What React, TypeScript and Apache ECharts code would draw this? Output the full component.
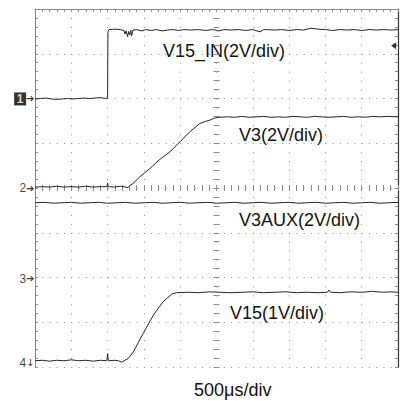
import React, { useEffect, useRef } from 'react';
import * as echarts from 'echarts';

// Screen is 10 horizontal x 8 vertical divisions, centred on (0, 0)
const xDivs = [-5, 5];
const yDivs = [-4, 4];

// Channel traces, in divisions
const ch1V15In: [number, number][] = [
  [-5.0, 1.99], [-4.85, 2.0], [-4.7, 2.01], [-4.55, 1.99], [-4.4, 1.98], [-4.25, 1.99], [-4.1, 2.0],
  [-3.95, 1.99], [-3.8, 2.0], [-3.65, 2.01], [-3.5, 2.0], [-3.35, 2.01], [-3.2, 2.02], [-3.05, 2.0],
  [-3.0, 2.01], [-2.99, 3.5], [-2.96, 3.54], [-2.8, 3.55], [-2.65, 3.54], [-2.55, 3.52], [-2.52, 3.44],
  [-2.49, 3.51], [-2.45, 3.38], [-2.42, 3.5], [-2.39, 3.42], [-2.36, 3.52], [-2.34, 3.4], [-2.3, 3.53],
  [-2.2, 3.54], [-2.05, 3.51], [-1.95, 3.54], [-1.8, 3.52], [-1.65, 3.54], [-1.5, 3.51], [-1.35, 3.53],
  [-1.2, 3.54], [-1.05, 3.52], [-0.9, 3.54], [-0.7, 3.53], [-0.5, 3.54], [-0.3, 3.52], [-0.1, 3.54],
  [0.05, 3.51], [0.2, 3.54], [0.4, 3.53], [0.6, 3.54], [0.8, 3.52], [1.0, 3.54], [1.2, 3.49],
  [1.3, 3.54], [1.6, 3.53], [1.8, 3.54], [2.0, 3.52], [2.2, 3.54], [2.4, 3.53], [2.6, 3.57],
  [2.8, 3.55], [3.0, 3.54], [3.2, 3.52], [3.4, 3.54], [3.6, 3.53], [3.8, 3.54], [4.0, 3.52],
  [4.2, 3.54], [4.4, 3.53], [4.6, 3.54], [4.8, 3.53], [5.0, 3.54],
];

const ch2V3: [number, number][] = [
  [-5.0, 0.02], [-4.8, 0.03], [-4.6, 0.02], [-4.4, 0.04], [-4.2, 0.02], [-4.0, 0.03], [-3.8, 0.02],
  [-3.6, 0.04], [-3.4, 0.02], [-3.2, 0.03], [-3.02, 0.03], [-3.0, 0.11], [-2.98, 0.03], [-2.8, 0.02],
  [-2.65, 0.04], [-2.5, 0.02], [-2.44, 0.01], [-2.38, 0.06], [-2.3, 0.1], [-2.11, 0.25], [-1.83, 0.44],
  [-1.56, 0.64], [-1.28, 0.81], [-1.01, 1.03], [-0.73, 1.26], [-0.46, 1.44], [-0.3, 1.49], [-0.2, 1.51],
  [-0.07, 1.56], [0.07, 1.58], [0.3, 1.59], [0.5, 1.58], [0.7, 1.6], [0.9, 1.58], [1.1, 1.59],
  [1.3, 1.6], [1.5, 1.58], [1.7, 1.59], [1.9, 1.58], [2.1, 1.6], [2.3, 1.59], [2.5, 1.58], [2.7, 1.6],
  [2.9, 1.59], [3.1, 1.58], [3.3, 1.59], [3.5, 1.6], [3.7, 1.58], [3.9, 1.59], [4.1, 1.58], [4.3, 1.6],
  [4.5, 1.59], [4.7, 1.6], [5.0, 1.59],
];

const ch3V3Aux: [number, number][] = [
  [-5.0, -0.33], [-4.75, -0.32], [-4.5, -0.34], [-4.25, -0.33], [-4.0, -0.32], [-3.75, -0.34],
  [-3.5, -0.33], [-3.25, -0.32], [-3.0, -0.34], [-2.75, -0.33], [-2.5, -0.32], [-2.25, -0.34],
  [-2.0, -0.33], [-1.75, -0.32], [-1.5, -0.34], [-1.25, -0.33], [-1.0, -0.32], [-0.75, -0.34],
  [-0.5, -0.33], [-0.25, -0.32], [0.0, -0.34], [0.25, -0.33], [0.5, -0.32], [0.75, -0.34],
  [1.0, -0.33], [1.25, -0.32], [1.5, -0.34], [1.75, -0.33], [2.0, -0.32], [2.25, -0.34],
  [2.5, -0.33], [2.75, -0.32], [3.0, -0.34], [3.25, -0.33], [3.5, -0.32], [3.75, -0.34],
  [4.0, -0.33], [4.25, -0.32], [4.5, -0.34], [4.75, -0.33], [5.0, -0.32],
];

const ch4V15: [number, number][] = [
  [-5.0, -3.86], [-4.8, -3.85], [-4.6, -3.87], [-4.4, -3.85], [-4.2, -3.86], [-4.0, -3.84], [-3.8, -3.86],
  [-3.6, -3.85], [-3.4, -3.87], [-3.2, -3.85], [-3.02, -3.86], [-3.0, -3.7], [-2.98, -3.86], [-2.8, -3.85],
  [-2.7, -3.86], [-2.61, -3.89], [-2.43, -3.81], [-2.29, -3.66], [-2.02, -3.25], [-1.74, -2.84],
  [-1.47, -2.54], [-1.23, -2.37], [-1.1, -2.34], [-0.8, -2.33], [-0.5, -2.34], [-0.2, -2.32], [0.1, -2.33],
  [0.4, -2.34], [0.7, -2.33], [1.0, -2.32], [1.3, -2.34], [1.6, -2.33], [1.9, -2.32], [2.2, -2.34],
  [2.5, -2.33], [2.8, -2.34], [3.05, -2.33], [3.1, -2.28], [3.15, -2.33], [3.4, -2.34], [3.7, -2.32],
  [4.0, -2.33], [4.3, -2.31], [4.6, -2.33], [4.8, -2.32], [5.0, -2.33],
];

// Channel ground-level markers on the left edge
const markerLabels = ['1', '2', '3', '4'];
const markerLevels = [1.99, 0.0, -2.03, -3.91];
const markerArrows = ['➔', '➔', '➔', '↓'];

// Trigger level marker on the right edge
const triggerPoint: [number, number] = [4.88, 3.18];

// Annotations
const traceLabels = ['V15_IN(2V/div)', 'V3(2V/div)', 'V3AUX(2V/div)', 'V15(1V/div)'];
const traceLabelPos: [number, number][] = [[163, 51], [239, 135], [239, 220], [230, 313]];
const timebaseLabel = '500μs/div';

const FONT = '"Liberation Sans", Arial, Helvetica, sans-serif';
const TICK = '#8a8a8a';
const TRACE = '#262626';

function xAxisDef(extra: any) {
  return {
    type: 'value', min: xDivs[0], max: xDivs[1], interval: 1,
    axisLabel: { show: false },
    splitLine: { show: false },
    axisLine: { show: false },
    axisTick: { show: true, inside: true, length: 3, lineStyle: { color: TICK } },
    minorTick: { show: true, splitNumber: 5, length: 3, lineStyle: { color: TICK } },
    ...extra,
  };
}
function yAxisDef(extra: any) {
  return {
    type: 'value', min: yDivs[0], max: yDivs[1], interval: 1,
    axisLabel: { show: false },
    splitLine: { show: false },
    axisLine: { show: false },
    axisTick: { show: true, inside: true, length: 3, lineStyle: { color: TICK } },
    minorTick: { show: true, splitNumber: 5, length: 3, lineStyle: { color: TICK } },
    ...extra,
  };
}

function traceSeries(name: string, data: [number, number][]) {
  return {
    name, type: 'line', data, xAxisIndex: 0, yAxisIndex: 0,
    symbol: 'none', showSymbol: false, silent: true, clip: true,
    lineStyle: { width: 1, color: TRACE },
  };
}

export default function App() {
  const ref = useRef<HTMLDivElement>(null);
  useEffect(() => {
    const chart = echarts.init(ref.current!, null, { renderer: 'svg' });
    const option: any = {
      animation: false,
      backgroundColor: '#fff',
      grid: { left: 35, top: 9, width: 363, height: 358, containLabel: false, outerBoundsMode: 'none' },
      xAxis: [
        xAxisDef({
          position: 'bottom',
          splitLine: { show: true, lineStyle: { color: '#8c8c8c', width: 1, type: [1, 7.95] } },
        }),
        xAxisDef({ position: 'top', axisLine: { show: true, onZero: false, lineStyle: { color: '#8c8c8c', width: 1 } } }),
        xAxisDef({ position: 'bottom', offset: -179 }),
        xAxisDef({ position: 'bottom', offset: -179, axisTick: { show: true, inside: false, length: 3, lineStyle: { color: TICK } } }),
      ],
      yAxis: [
        yAxisDef({
          position: 'left',
          axisLine: { show: true, onZero: false, lineStyle: { color: '#8c8c8c', width: 1 } },
          splitLine: { show: true, lineStyle: { color: '#8c8c8c', width: 1, type: [1, 6.26] } },
        }),
        yAxisDef({ position: 'right', axisLine: { show: true, onZero: false, lineStyle: { color: '#333', width: 1.2 } } }),
        yAxisDef({ position: 'left', offset: -181.5 }),
        yAxisDef({ position: 'left', offset: -181.5, axisTick: { show: true, inside: false, length: 3, lineStyle: { color: TICK } } }),
      ],
      series: [
        traceSeries('V15_IN', ch1V15In),
        traceSeries('V3', ch2V3),
        traceSeries('V3AUX', ch3V3Aux),
        traceSeries('V15', ch4V15),
        {
          type: 'scatter', xAxisIndex: 0, yAxisIndex: 0, silent: true, clip: false,
          data: markerLevels.map((lv) => [xDivs[0], lv]),
          symbol: 'circle', symbolSize: 1,
          itemStyle: { color: 'transparent' },
          label: {
            show: true, position: 'left', distance: 0,
            formatter: (p: any) => p.dataIndex === 0
              ? `{box|${markerLabels[0]}}{arr|${markerArrows[0]}}`
              : `{num|${markerLabels[p.dataIndex]}}{arr|${markerArrows[p.dataIndex]}}`,
            rich: {
              box: { backgroundColor: '#000', color: '#fff', fontFamily: FONT, fontSize: 12, fontWeight: 'bold', padding: [1, 3, 0, 3], lineHeight: 12, width: 6, align: 'center' },
              num: { color: '#111', fontFamily: FONT, fontSize: 12 },
              arr: { color: '#000', fontFamily: '"DejaVu Sans"', fontSize: 10, padding: [0, 0, 0, 0] },
            },
          },
        },
        {
          type: 'scatter', xAxisIndex: 0, yAxisIndex: 0, silent: true, clip: false,
          data: [triggerPoint],
          symbol: 'path://M8 0 L0 4.5 L8 9 Z', symbolSize: [5, 7],
          itemStyle: { color: '#000' },
        },
      ],
      graphic: [
        ...traceLabels.map((t, i) => ({
          type: 'text', x: traceLabelPos[i][0], y: traceLabelPos[i][1], silent: true,
          style: { text: t, fill: '#111', font: `18px ${FONT}`, textAlign: 'left', textVerticalAlign: 'middle' },
        })),
        {
          type: 'text', x: 194, y: 390, silent: true,
          style: { text: timebaseLabel, fill: '#111', font: `18px ${FONT}`, textAlign: 'left', textVerticalAlign: 'middle' },
        },
      ],
    };
    chart.setOption(option);
    return () => chart.dispose();
  }, []);
  return (
    <div
      ref={ref}
      style={{ position: 'fixed', left: 0, top: 0, width: 408, height: 403, background: '#fff' }}
    />
  );
}
